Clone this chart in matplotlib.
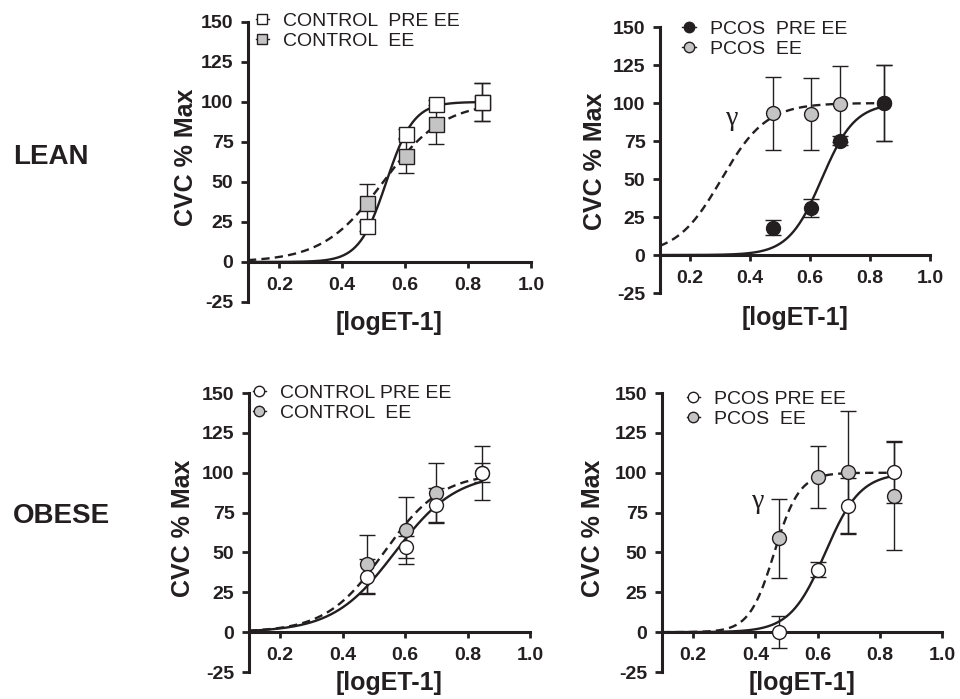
import numpy as np
import matplotlib.pyplot as plt
from matplotlib.lines import Line2D

plt.rcParams['font.family'] = ['Liberation Sans', 'DejaVu Sans']

INK = '#231f20'
GRAY = '#c4c4c4'

# ---------------- data ----------------
log_dose = [0.477, 0.602, 0.699, 0.845]
x_ticks = [0.2, 0.4, 0.6, 0.8, 1.0]
x_tick_labels = ['0.2', '0.4', '0.6', '0.8', '1.0']
y_ticks = [-25, 0, 25, 50, 75, 100, 125, 150]
y_tick_labels = ['-25', '0', '25', '50', '75', '100', '125', '150']
row_labels = ['LEAN', 'OBESE']

# Lean control
lean_ctrl_pre = [22.5, 80, 98.5, 100]
lean_ctrl_pre_err = [3, 3, 3, 12]
lean_ctrl_ee = [37, 66.5, 86, 100]
lean_ctrl_ee_err = [12, 11, 12, 12]
lean_ctrl_pre_fit = [0.54, 10.0]    # logEC50, Hill slope
lean_ctrl_ee_fit = [0.53, 4.5]
lean_ctrl_labels = ['CONTROL  PRE EE', 'CONTROL  EE']

# Lean PCOS
lean_pcos_pre = [18, 30.7, 75.2, 100]
lean_pcos_pre_err = [5, 6, 3, 25]
lean_pcos_ee = [93.2, 92.8, 99.1, 100]
lean_pcos_ee_err = [24, 24, 25, 25]
lean_pcos_pre_fit = [0.639, 7.84]
lean_pcos_ee_fit = [0.305, 5.8]
lean_pcos_labels = ['PCOS  PRE EE', 'PCOS  EE']

# Obese control
obese_ctrl_pre = [34.7, 53.5, 79.7, 100]
obese_ctrl_pre_err = [11, 7, 11, 17]
obese_ctrl_ee = [42.7, 64, 87.5, 100]
obese_ctrl_ee_err = [18, 21, 18.5, 6]
obese_ctrl_pre_fit = [0.567, 4.4]
obese_ctrl_ee_fit = [0.532, 4.68]
obese_ctrl_labels = ['CONTROL PRE EE', 'CONTROL  EE']

# Obese PCOS
obese_pcos_pre = [0, 39.3, 79, 100.6]
obese_pcos_pre_err = [10, 4.5, 17.5, 19.4]
obese_pcos_ee = [58.8, 97.5, 100.6, 85.4]
obese_pcos_ee_err = [24.7, 19.3, 38.4, 34]
obese_pcos_pre_fit = [0.625, 7.7]
obese_pcos_ee_fit = [0.461, 10.8]
obese_pcos_labels = ['PCOS PRE EE', 'PCOS  EE']


def hill(x, fit):
    ec50, h = fit
    return 100.0 / (1.0 + 10 ** ((ec50 - x) * h))


fig = plt.figure(figsize=(9.6, 6.99), dpi=100)


def panel(rect, pre, pre_err, ee, ee_err, pre_fit, ee_fit, marker, pre_face,
          labels, leg_anchor, ylab_xy, xlab_y, gamma=None):
    ax = fig.add_axes(rect)
    xs = np.linspace(0.1, log_dose[-1], 400)
    ax.plot(xs, hill(xs, pre_fit), color=INK, lw=1.7, zorder=2)
    ax.plot(xs, hill(xs, ee_fit), color=INK, lw=1.7, ls=(0, (3.5, 2.2)), zorder=2)
    ms = 10.8 if marker == 's' else 10
    for y, e in ((ee, ee_err), (pre, pre_err)):
        ax.errorbar(log_dose, y, yerr=e, fmt='none', ecolor=INK, elinewidth=1.0,
                    capsize=5.5, capthick=1.0, zorder=3)
    ax.plot(log_dose, ee, ls='none', marker=marker, ms=ms, mfc=GRAY, mec=INK,
            mew=1.0, zorder=4)
    ax.plot(log_dose, pre, ls='none', marker=marker, ms=ms, mfc=pre_face, mec=INK,
            mew=1.0, zorder=5)

    ax.set_xlim(0.1, 1.0)
    ax.set_ylim(-25, 150)
    ax.spines['top'].set_visible(False)
    ax.spines['right'].set_visible(False)
    ax.spines['bottom'].set_position(('data', 0))
    for s in ('left', 'bottom'):
        ax.spines[s].set_linewidth(2.2)
        ax.spines[s].set_color(INK)
    ax.set_xticks(x_ticks)
    ax.set_xticklabels(x_tick_labels)
    ax.set_yticks(y_ticks)
    ax.set_yticklabels(y_tick_labels)
    ax.tick_params(axis='y', direction='out', length=5, width=2, pad=5.5,
                   labelsize=14, colors=INK)
    ax.tick_params(axis='x', direction='out', length=4, width=2, pad=7,
                   labelsize=14, colors=INK)
    for lab in ax.get_xticklabels() + ax.get_yticklabels():
        lab.set_fontweight('bold')
    ax.set_ylabel('CVC % Max', fontsize=18, fontweight='bold', color=INK)
    ax.yaxis.set_label_coords(*ylab_xy)
    ax.set_xlabel('[logET-1]', fontsize=18, fontweight='bold', color=INK)
    ax.xaxis.set_label_coords(0.5, xlab_y)
    ax.xaxis.label.set_verticalalignment('top')

    handles = [
        Line2D([], [], color=INK, lw=1.0, marker=marker, ms=7.5, mfc=pre_face,
               mec=INK, mew=1.0),
        Line2D([], [], color=INK, lw=1.0, marker=marker, ms=7.5, mfc=GRAY,
               mec=INK, mew=1.0),
    ]
    ax.legend(handles, labels, loc='upper left', bbox_to_anchor=leg_anchor,
              frameon=False, borderpad=0, borderaxespad=0, handlelength=0.7,
              handletextpad=0.7, labelspacing=0.12, fontsize=14,
              labelcolor=INK)
    if gamma is not None:
        ax.text(gamma[0], gamma[1], 'γ', fontsize=20, color=INK,
                family=['Liberation Serif', 'DejaVu Serif'],
                ha='center', va='center')
    return ax


panel([0.2583, 0.5680, 0.2948, 0.4006], lean_ctrl_pre, lean_ctrl_pre_err,
      lean_ctrl_ee, lean_ctrl_ee_err, lean_ctrl_pre_fit, lean_ctrl_ee_fit,
      's', 'white', lean_ctrl_labels, (0.027, 1.035), (-0.177, 0.516), -0.033)

panel([0.6875, 0.5808, 0.28125, 0.3805], lean_pcos_pre, lean_pcos_pre_err,
      lean_pcos_ee, lean_pcos_ee_err, lean_pcos_pre_fit, lean_pcos_ee_fit,
      'o', INK, lean_pcos_labels, (0.083, 1.026), (-0.196, 0.494), -0.050,
      gamma=(0.34, 90))

panel([0.2594, 0.0386, 0.2927, 0.3991], obese_ctrl_pre, obese_ctrl_pre_err,
      obese_ctrl_ee, obese_ctrl_ee_err, obese_ctrl_pre_fit, obese_ctrl_ee_fit,
      'o', 'white', obese_ctrl_labels, (0.0125, 1.032), (-0.192, 0.514), 0.002)

panel([0.6896, 0.0386, 0.2917, 0.3991], obese_pcos_pre, obese_pcos_pre_err,
      obese_pcos_ee, obese_pcos_ee_err, obese_pcos_pre_fit, obese_pcos_ee_fit,
      'o', 'white', obese_pcos_labels, (0.0875, 1.011), (-0.204, 0.514), 0.002,
      gamma=(0.41, 82))

fig.text(13 / 960, 1 - 157 / 699, row_labels[0], fontsize=20, fontweight='bold',
         color=INK, ha='left', va='center')
fig.text(13 / 960, 1 - 516 / 699, row_labels[1], fontsize=20, fontweight='bold',
         color=INK, ha='left', va='center')

fig.savefig('out.png', dpi=100)
